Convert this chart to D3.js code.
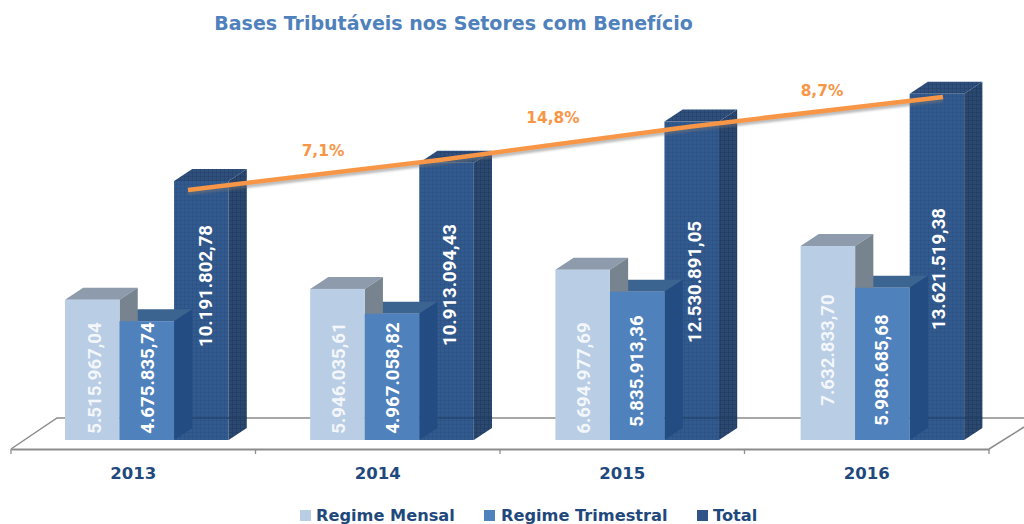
<!DOCTYPE html>
<html><head><meta charset="utf-8">
<script src="https://cdnjs.cloudflare.com/ajax/libs/d3/7.8.5/d3.min.js"></script>
<style>html,body{margin:0;padding:0;background:#fff;overflow:hidden}svg{display:block}</style>
</head><body><svg id="c" width="1024" height="524"></svg>
<script>
const title = "Bases Tributáveis nos Setores com Benefício";
const years = ["2013","2014","2015","2016"];
const seriesNames = ["Regime Mensal","Regime Trimestral","Total"];
const regimeMensal = [5515967.04,5946035.61,6694977.69,7632833.70];
const regimeTrimestral = [4675835.74,4967058.82,5835913.36,5988685.68];
const total = [10191802.78,10913094.43,12530891.05,13621519.38];
const valueLabels = [
 ["5.515.967,04","5.946.035,61","6.694.977,69","7.632.833,70"],
 ["4.675.835,74","4.967.058,82","5.835.913,36","5.988.685,68"],
 ["10.191.802,78","10.913.094,43","12.530.891,05","13.621.519,38"]];
const trendValues = [9840000,11020000,12340000,13500000];
const growthLabels = ["7,1%","14,8%","8,7%"];

// layout (not data)
const labelCentreY = [[378,378,378,350],[378,378,371,370],[286,285,282,269]];
const labelShiftX = [2,0.5,3.5];
const growthPos = [[323,150],[553,117],[822,90]];
const depth = {x:18.2,y:-12};
const F = "'DejaVu Sans',Verdana,sans-serif";
const styles = [
 {front:"#b9cde5",top:"#8d9bac",side:"#77848f"},
 {front:"#4f81bd",top:"#3c6491",side:"#234c82"},
 {front:"url(#tf)",top:"url(#tt)",side:"url(#ts)"}];

const svg = d3.select("#c");
const defs = svg.append("defs");
function tex(id,base,dot){
  const p = defs.append("pattern").attr("id",id).attr("width",4).attr("height",4).attr("patternUnits","userSpaceOnUse");
  p.append("rect").attr("width",4).attr("height",4).attr("fill",base);
  p.append("rect").attr("width",1).attr("height",4).attr("fill",dot).attr("opacity",.4);
  p.append("rect").attr("width",4).attr("height",1).attr("fill",dot).attr("opacity",.4);
}
tex("tf","#335a8e","#284c7c");
tex("tt","#2f4f7c","#223d63");
tex("ts","#2b4870","#1d3454");
const sh = defs.append("filter").attr("id","sh").attr("x","-5%").attr("y","-50%").attr("width","110%").attr("height","250%");
sh.append("feGaussianBlur").attr("stdDeviation",1);

const x = d3.scaleBand().domain(years).range([11,989]);
const xBars = d3.scaleBand().domain(years).range([11,11+4*245.2]);
const s = d3.scaleBand().domain(seriesNames).range([54,54+163.6]);
const y = d3.scaleLinear().domain([0,10191802.78]).range([440,181]);
const xTrend = d3.scaleLinear().domain([0,3]).range([188,943]);
const seriesValues = [regimeMensal,regimeTrimestral,total];

// floor
const floor = svg.append("g").attr("fill","none").attr("stroke","#8c8c8c").attr("stroke-width",1.5);
floor.append("path").attr("d","M11,449 L57,418 H1024 M989,449 L1024,427");
const axis = d3.axisBottom(x).tickSize(0).tickFormat(d=>d);
const ax = svg.append("g").attr("transform","translate(0,449)").call(axis);
ax.select(".domain").attr("stroke","#8c8c8c").attr("stroke-width",2);
ax.selectAll("text").attr("y",18).attr("dy",".71em").attr("font-family",F).attr("font-weight","bold").attr("font-size",16.5).attr("fill","#1f497d");
const tickX = [...years.map(d=>x(d)),x.range()[1]];
svg.append("g").selectAll("line").data(tickX).join("line")
 .attr("x1",d=>d).attr("x2",d=>d).attr("y1",449).attr("y2",454).attr("stroke","#8c8c8c").attr("stroke-width",1.3);

function rows(i){return years.map((yr,j)=>({yr,j,v:seriesValues[i][j],x0:xBars(yr)+s(seriesNames[i]),lx:x(yr)+s(seriesNames[i]),w:s.bandwidth(),t:y(seriesValues[i][j])}));}
function front(g,i){
  g.selectAll(null).data(rows(i)).join("rect")
   .attr("x",d=>d.x0).attr("y",d=>d.t).attr("width",d=>d.w).attr("height",d=>y(0)-d.t).attr("fill",styles[i].front);
}
function topSide(g,i){
  g.selectAll(null).data(rows(i)).join("path").attr("fill",styles[i].top)
   .attr("d",d=>`M${d.x0},${d.t}l${depth.x},${depth.y}h${d.w}l${-depth.x},${-depth.y}z`);
  g.selectAll(null).data(rows(i)).join("path").attr("fill",styles[i].side)
   .attr("d",d=>`M${d.x0+d.w},${d.t}l${depth.x},${depth.y}V${y(0)+depth.y}l${-depth.x},${-depth.y}z`);
}
const bars = svg.append("g");
front(bars,2); topSide(bars,2);
// faint see-through wall line on the Total bars
bars.append("g").selectAll("line").data(rows(2)).join("line")
 .attr("x1",d=>d.x0).attr("x2",d=>d.x0+d.w+depth.x).attr("y1",418).attr("y2",418).attr("stroke","#1f3a60").attr("stroke-width",1);
topSide(bars,1); topSide(bars,0);
front(bars,0); front(bars,1);

// value labels
seriesNames.forEach((n,i)=>{
  svg.append("g").selectAll("text").data(rows(i)).join("text")
   .attr("transform",d=>`translate(${d.lx+d.w/2+labelShiftX[i]},${labelCentreY[i][d.j]}) rotate(-90)`)
   .attr("text-anchor","middle").attr("dy",".36em")
   .attr("font-family","Roboto,'Open Sans',sans-serif").attr("font-weight",700).attr("font-size",18.6)
   .attr("fill","#fff").attr("fill-opacity",i==0?.85:1)
   .text(d=>valueLabels[i][d.j]);
});

// trend line
const line = d3.line().x((d,i)=>xTrend(i)).y(d=>y(d));
svg.append("path").attr("d",line(trendValues)).attr("fill","none").attr("stroke","#777").attr("stroke-width",4).attr("opacity",.5).attr("transform","translate(0,3)").attr("filter","url(#sh)");
svg.append("path").attr("d",line(trendValues)).attr("fill","none").attr("stroke","#f79646").attr("stroke-width",4.5);
svg.append("g").selectAll("text").data(growthLabels).join("text")
 .attr("x",(d,i)=>growthPos[i][0]).attr("y",(d,i)=>growthPos[i][1]).attr("dy",".36em").attr("text-anchor","middle")
 .attr("font-family",F).attr("font-weight","bold").attr("font-size",15.4).attr("fill","#f79646").text(d=>d);

// title
svg.append("text").attr("x",453.5).attr("y",30).attr("text-anchor","middle").attr("font-family",F).attr("font-weight","bold").attr("font-size",19).attr("fill","#4f81bd").text(title);

// legend
const legX = [300,484,697], legText=[316,501,713];
const legCol = ["#b9cde5","#4f81bd","#2f5487"];
const lg = svg.append("g").selectAll("g").data(seriesNames).join("g");
lg.append("rect").attr("x",(d,i)=>legX[i]).attr("y",510).attr("width",11).attr("height",11).attr("fill",(d,i)=>legCol[i]);
lg.append("text").attr("x",(d,i)=>legText[i]).attr("y",521).attr("font-family",F).attr("font-weight","bold").attr("font-size",16.2).attr("fill","#1f497d").text(d=>d);
</script></body></html>
